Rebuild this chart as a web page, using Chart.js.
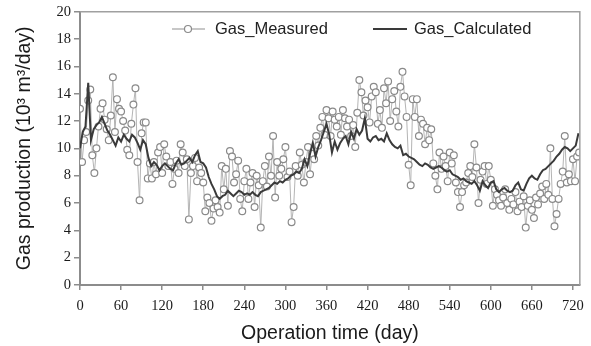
<!DOCTYPE html>
<html>
<head>
<meta charset="utf-8">
<script src="https://cdn.jsdelivr.net/npm/chart.js@4.4.1/dist/chart.umd.min.js"></script>
<style>
  html, body { margin: 0; padding: 0; background: #fff; }
  #wrap { width: 591px; height: 346px; }
</style>
</head>
<body>
<div id="wrap"><canvas id="gasChart" width="591" height="346"></canvas></div>
<script>
// sampling interval of each series (days)
const measuredStep = 3;
const calculatedStep = 4;

// Gas_Measured (10^3 m3/day), day 0 .. 729, every 3 days
const measured = [
  12.9, 9.0, 10.6, 11.2, 13.5, 14.3, 9.5, 8.2, 10.0, 11.6,
  12.9, 13.3, 12.1, 11.4, 10.6, 12.4, 15.2, 11.2, 13.6, 12.9,
  12.7, 12.0, 11.3, 9.9, 9.5, 11.8, 13.2, 14.4, 9.0, 6.2,
  11.1, 11.9, 11.9, 7.8, 8.9, 7.8, 9.0, 8.1, 9.7, 10.1,
  8.2, 10.3, 9.4, 8.7, 9.0, 7.4, 8.5, 9.1, 8.2, 10.3,
  9.7, 8.7, 9.2, 4.8, 8.2, 8.7, 9.3, 7.6, 8.6, 8.2,
  7.5, 5.4, 6.4, 6.0, 4.7, 5.6, 6.2, 5.7, 5.3, 8.7,
  7.0, 8.5, 5.8, 9.8, 9.4, 7.5, 8.1, 9.1, 6.3, 5.4,
  7.6, 8.5, 6.3, 7.5, 8.2, 5.7, 8.0, 7.3, 4.2, 7.6,
  8.7, 7.2, 9.4, 8.0, 10.9, 6.4, 9.0, 8.0, 8.5, 9.2,
  10.1, 7.9, 8.3, 4.6, 5.7, 8.7, 8.0, 9.7, 8.8, 7.5,
  9.0, 10.1, 8.1, 9.6, 9.2, 10.9, 10.2, 11.5, 12.3, 11.0,
  12.8, 12.2, 10.9, 12.7, 12.1, 11.6, 12.3, 11.0, 12.8, 12.2,
  11.6, 12.1, 10.9, 11.7, 10.1, 12.6, 15.0, 14.1, 12.4, 13.5,
  13.0, 11.9, 13.8, 14.5, 14.1, 11.8, 12.8, 11.5, 14.4, 13.3,
  14.9, 12.0, 13.6, 14.2, 12.7, 11.6, 14.5, 15.6, 13.8, 12.3,
  8.8, 7.3, 13.6, 12.3, 13.6, 10.9, 12.1, 11.8, 10.3, 11.5,
  10.6, 11.4, 8.9, 8.0, 7.0, 9.7, 8.5, 9.4, 8.7, 7.6,
  9.7, 8.9, 9.5, 7.5, 6.8, 5.7, 6.8, 7.3, 7.5, 8.2,
  8.7, 7.9, 10.3, 8.6, 6.0, 7.7, 8.3, 8.7, 7.4, 8.7,
  7.7, 5.8, 7.0, 6.6, 6.2, 5.8, 6.4, 7.0, 6.0, 5.5,
  6.3, 5.9, 6.8, 5.4, 6.1, 5.7, 6.5, 4.2, 5.8, 6.2,
  5.5, 4.9, 6.4, 5.9, 6.7, 7.2, 6.3, 7.4, 6.6, 10.0,
  6.3, 4.3, 5.2, 6.3, 7.4, 8.3, 10.9, 7.5, 8.1, 7.6,
  9.2, 7.6, 9.4, 9.7
];

// Gas_Calculated (10^3 m3/day), day 0 .. 728, every 4 days
const calculated = [
  10.0, 11.2, 11.6, 14.8, 10.6, 11.4, 11.7, 11.9, 12.3, 11.8,
  11.3, 11.0, 10.6, 10.2, 10.8, 10.5, 11.0, 10.7, 10.5, 11.0,
  10.8, 10.4, 9.9, 10.6, 10.3, 9.3, 8.7, 9.0, 8.8, 8.4,
  8.7, 8.9, 8.7, 8.5, 8.4, 8.9, 9.2, 8.8, 8.9, 9.1,
  9.3, 9.0, 9.5, 9.8, 9.0, 8.9, 8.6, 7.9, 7.4, 7.0,
  6.5, 6.3, 6.5, 6.6, 6.9, 6.7, 6.5, 6.7, 6.9, 6.8,
  6.6, 6.7, 6.6, 6.8, 6.6, 6.5, 6.8, 6.9, 7.0, 7.1,
  7.3, 7.5, 7.4, 7.6, 7.5, 7.7, 7.8, 8.0, 8.1, 8.3,
  8.2, 8.5, 9.2, 8.7, 9.6, 10.4, 9.4, 10.1, 10.6, 11.2,
  11.8, 11.0, 9.7, 10.5, 9.9, 10.4, 10.7, 10.9, 10.3, 11.2,
  10.7, 11.4, 11.0, 11.3, 12.2, 10.7, 10.5, 10.8, 10.9, 10.6,
  10.7, 10.5, 11.1, 10.6, 10.3, 10.1, 10.0, 10.2, 9.5, 9.6,
  9.4, 9.3, 9.2, 9.0, 8.8, 8.7, 8.9, 8.8, 8.6, 8.5,
  8.6, 8.7, 8.6, 8.4, 8.3, 8.4, 8.1, 8.0, 7.9, 7.7,
  7.8, 7.6, 7.5, 7.4, 7.6, 7.3, 6.9, 7.6, 7.3, 7.1,
  7.5, 7.6, 7.0, 6.8, 7.0, 7.1, 6.9, 6.8, 6.9, 7.3,
  7.5, 7.0, 6.9, 7.4, 7.8, 8.0, 7.8, 7.7, 8.1, 8.4,
  8.5, 8.7, 8.9, 9.1, 9.4, 9.6, 9.9, 10.1, 10.0, 9.8,
  10.0, 10.2, 11.1
];

const xTickValues = [0, 60, 120, 180, 240, 300, 360, 420, 480, 540, 600, 660, 720];
const yTickValues = [0, 2, 4, 6, 8, 10, 12, 14, 16, 18, 20];
const seriesNames = ['Gas_Measured', 'Gas_Calculated'];

function toPoints(values, step) {
  return values.map((v, i) => ({ x: i * step, y: v }));
}

const axisColor = '#8c8c8c';
const tickFont = { family: '"Liberation Serif", "Times New Roman", serif', size: 14.5 };
const titleFont = { family: '"Liberation Sans", Arial, sans-serif', size: 19.5 };

// frame on top/right + legend inside the plot
const frameLegend = {
  id: 'frameLegend',
  afterDatasetsDraw(chart) {
    const ctx = chart.ctx;
    const a = chart.chartArea;
    ctx.save();
    ctx.strokeStyle = '#a0a0a0';
    ctx.lineWidth = 1.5;
    ctx.beginPath();
    ctx.moveTo(a.left, a.top);
    ctx.lineTo(a.right, a.top);
    ctx.lineTo(a.right, a.bottom);
    ctx.stroke();

    const ds = chart.data.datasets;
    const y = 29;
    ctx.font = '16.5px "Liberation Sans", Arial, sans-serif';
    ctx.textBaseline = 'middle';

    // measured
    ctx.strokeStyle = ds[1].borderColor;
    ctx.lineWidth = 1.5;
    ctx.beginPath(); ctx.moveTo(172, y); ctx.lineTo(205, y); ctx.stroke();
    ctx.beginPath(); ctx.arc(188, y, 3.5, 0, Math.PI * 2);
    ctx.fillStyle = '#fff'; ctx.fill();
    ctx.strokeStyle = ds[1].pointBorderColor; ctx.lineWidth = 1.2; ctx.stroke();
    ctx.fillStyle = '#222';
    ctx.fillText(seriesNames[0], 215, y);

    // calculated
    ctx.strokeStyle = ds[0].borderColor;
    ctx.lineWidth = 2;
    ctx.beginPath(); ctx.moveTo(373, y); ctx.lineTo(407, y); ctx.stroke();
    ctx.fillText(seriesNames[1], 414, y);
    ctx.restore();
  }
};

const GasChart = document.getElementById('gasChart').getContext('2d');
new Chart(GasChart, {
  type: 'line',
  data: {
    datasets: [
      {
        label: seriesNames[1],
        data: toPoints(calculated, calculatedStep),
        borderColor: '#3a3a3a',
        borderWidth: 2,
        pointRadius: 0,
        tension: 0,
        fill: false
      },
      {
        label: seriesNames[0],
        data: toPoints(measured, measuredStep),
        borderColor: '#b4b4b4',
        borderWidth: 1,
        pointRadius: 3.4,
        pointBorderWidth: 1.2,
        pointBorderColor: '#8a8a8a',
        pointBackgroundColor: '#ffffff',
        tension: 0,
        fill: false
      }
    ]
  },
  options: {
    responsive: false,
    animation: false,
    layout: { padding: { left: 0, right: 11, top: 9, bottom: 0 } },
    plugins: {
      legend: { display: false },
      tooltip: { enabled: false }
    },
    scales: {
      x: {
        type: 'linear',
        min: 0,
        max: 730,
        afterBuildTicks: (s) => { s.ticks = xTickValues.map(v => ({ value: v })); },
        afterFit: (s) => { s.height = 61; },
        grid: { drawOnChartArea: false, drawTicks: true, tickLength: 5, color: axisColor, lineWidth: 1.5 },
        border: { display: true, color: axisColor, width: 2 },
        ticks: { font: tickFont, color: '#1a1a1a', padding: 7, maxRotation: 0 },
        title: { display: true, text: 'Operation time (day)', font: titleFont, color: '#1a1a1a', padding: { top: 4, bottom: 1 } }
      },
      y: {
        min: 0,
        max: 20,
        afterBuildTicks: (s) => { s.ticks = yTickValues.map(v => ({ value: v })); },
        afterFit: (s) => { s.width = 80; },
        grid: { drawOnChartArea: false, drawTicks: true, tickLength: 6, color: axisColor, lineWidth: 1.5 },
        border: { display: true, color: axisColor, width: 2 },
        ticks: { font: tickFont, color: '#1a1a1a', padding: 3 },
        title: { display: true, text: 'Gas production (10³ m³/day)', font: titleFont, color: '#1a1a1a', padding: { top: 13, bottom: 4 } }
      }
    }
  },
  plugins: [frameLegend]
});
</script>
</body>
</html>
